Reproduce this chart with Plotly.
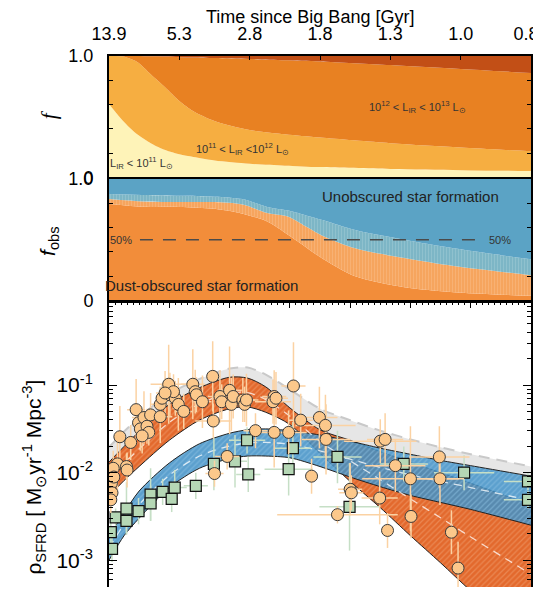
import numpy as np
import plotly.graph_objects as go

# ---------------- top panel: luminosity-class fractions ----------------
z_frac = [0, 0.2, 0.4, 0.6, 0.8, 1.0, 1.2, 1.5, 2.0, 2.5, 3.0, 4.0, 5.0, 6.0]
f_lt11 = [0.605, 0.465, 0.355, 0.28, 0.225, 0.19, 0.168, 0.14, 0.113, 0.097, 0.085, 0.07, 0.06, 0.052]
f_lt12 = [1.0, 0.995, 0.95, 0.845, 0.74, 0.63, 0.545, 0.465, 0.39, 0.355, 0.328, 0.282, 0.247, 0.215]
f_lt13 = [1.0, 1.0, 1.0, 0.997, 0.995, 0.99, 0.988, 0.983, 0.975, 0.965, 0.955, 0.925, 0.893, 0.86]

# ---------------- middle panel: obscured fraction ----------------
z_obs = [0, 0.5, 1.0, 1.5, 1.9, 2.25, 2.55, 2.8, 3.05, 3.5, 4.2, 4.9, 6.0]
fobs_lo = [0.795, 0.772, 0.77, 0.755, 0.715, 0.65, 0.54, 0.44, 0.34, 0.20, 0.11, 0.07, 0.04]
fobs_mid = [0.835, 0.815, 0.81, 0.81, 0.79, 0.72, 0.69, 0.61, 0.53, 0.43, 0.35, 0.285, 0.21]
fobs_hi = [0.876, 0.868, 0.862, 0.855, 0.835, 0.77, 0.74, 0.70, 0.66, 0.58, 0.50, 0.43, 0.34]

# ---------------- bottom panel: SFRD (log10) ----------------
z_sfrd = [0, 0.25, 0.5, 1.0, 1.5, 2.0, 2.3, 2.6, 3.0, 3.5, 4.0, 4.5, 5.0, 5.5, 6.0, 7.0]
log_total_hi = [-1.71, -1.53, -1.37, -1.10, -0.93, -0.81, -0.80, -0.88, -1.05, -1.27, -1.40, -1.52, -1.62, -1.71, -1.79, -1.93]
log_obsc_hi = [-1.88, -1.70, -1.53, -1.22, -1.03, -0.91, -0.92, -1.02, -1.26, -1.51, -1.63, -1.76, -1.88, -2.00, -2.12, -2.37]
log_obsc_lo = [-2.27, -2.09, -1.93, -1.63, -1.40, -1.27, -1.25, -1.31, -1.45, -1.78, -2.10, -2.40, -2.72, -3.03, -3.35, -3.95]
log_unob_hi = [-2.72, -2.46, -2.21, -1.89, -1.67, -1.55, -1.51, -1.50, -1.52, -1.57, -1.64, -1.72, -1.79, -1.86, -1.92, -2.04]
log_unob_lo = [-3.00, -2.72, -2.52, -2.17, -1.95, -1.84, -1.81, -1.81, -1.83, -1.93, -2.05, -2.16, -2.26, -2.34, -2.42, -2.60]

# IR / mm measurements (orange circles)
ir_z = [0.18, 0.36, 0.14, 0.29, 0.04, 0.05, 0.45, 0.49, 0.52, 0.58, 0.63, 0.66, 0.69, 0.55,
        0.85, 0.85, 0.88, 0.99, 1.01, 1.10, 1.15, 1.24, 1.07, 0.93, 1.39, 1.43, 1.45, 1.55,
        1.72, 1.73, 1.84, 1.87, 2.00, 2.03, 2.06, 2.22, 2.25, 2.74, 2.72, 3.06, 3.18, 3.49,
        2.43, 2.74, 2.98, 1.96, 1.75, 3.36, 0.30, 0.07, 0.03, 0.08, 2.28, 2.77, 3.59, 3.60,
        4.50, 4.58, 4.75, 5.00, 5.48, 5.49, 4.00, 4.02, 4.49, 3.79, 5.01, 4.62, 5.68, 5.79]
ir_log = [-1.59, -1.655, -1.90, -1.93, -2.12, -2.23, -1.28, -1.43, -1.50, -1.37, -1.47, -1.54, -1.34, -1.58,
          -1.36, -1.22, -1.15, -0.99, -1.11, -1.15, -1.22, -1.30, -1.075, -1.09, -0.99, -1.075, -1.11, -1.19,
          -0.90, -1.41, -1.13, -1.19, -1.06, -1.22, -1.13, -1.17, -1.22, -1.13, -1.19, -1.01, -1.40, -1.37,
          -1.52, -1.54, -1.54, -1.815, -2.01, -2.04, -1.97, -1.95, -2.31, -2.05, -1.17, -1.15, -1.46, -1.62,
          -1.64, -1.62, -1.92, -2.07, -1.82, -2.07, -2.19, -2.23, -2.29, -2.48, -2.50, -2.66, -2.68, -3.09]
ir_dlog = [0.35, 0.2, 0.3, 0.15, 0.15, 0.15, 0.35, 0.2, 0.25, 0.3, 0.2, 0.15, 0.25, 0.2,
           0.3, 0.2, 0.15, 0.45, 0.25, 0.2, 0.3, 0.2, 0.2, 0.25, 0.4, 0.25, 0.2, 0.3,
           0.4, 0.2, 0.3, 0.2, 0.5, 0.3, 0.25, 0.25, 0.2, 0.3, 0.25, 0.5, 0.3, 0.35,
           0.2, 0.4, 0.25, 0.15, 0.15, 0.2, 0.2, 0.2, 0.15, 0.15, 0.3, 0.3, 0.35, 0.4,
           0.25, 0.3, 0.3, 0.6, 0.35, 0.3, 0.3, 0.2, 0.3, 0.1, 0.25, 0.2, 0.25, 0.3]
ir_dz = [0.1, 0.1, 0.1, 0.1, 0.05, 0.05, 0.15, 0.1, 0.1, 0.2, 0.1, 0.1, 0.1, 0.1,
         0.2, 0.15, 0.1, 0.3, 0.1, 0.1, 0.1, 0.15, 0.1, 0.15, 0.2, 0.1, 0.1, 0.15,
         0.1, 0.3, 0.2, 0.1, 0.2, 0.1, 0.2, 0.2, 0.1, 0.2, 0.3, 0.2, 0.2, 0.3,
         0.2, 0.3, 0.3, 0.2, 0.15, 0.1, 0.1, 0.05, 0.03, 0.05, 0.2, 0.2, 0.5, 0.4,
         0.6, 0.3, 0.5, 0.8, 0.5, 0.4, 0.2, 0.2, 0.3, 1.0, 0.1, 0.1, 0.1, 0.1]

# UV measurements (green squares)
uv_z = [0.05, 0.11, 0.29, 0.29, 0.49, 0.69, 0.69, 0.89, 1.04, 1.09, 1.44, 1.74, 2.09, 2.31,
        2.29, 2.98, 3.05, 0.03, 3.79, 4.89, 5.89, 3.99, 6.95, 6.95]
uv_log = [-2.87, -2.51, -2.41, -2.55, -2.44, -2.25, -2.35, -2.22, -2.30, -2.17, -2.15, -1.90, -1.87, -2.02,
          -1.63, -1.96, -1.72, -2.68, -1.82, -1.90, -2.00, -2.39, -2.10, -2.31]
uv_dlog = [0.15, 0.1, 0.3, 0.15, 0.15, 0.3, 0.2, 0.15, 0.15, 0.2, 0.15, 0.3, 0.3, 0.2,
           0.15, 0.3, 0.3, 0.15, 0.3, 0.2, 0.2, 0.5, 0.1, 0.1]
uv_dz = [0.05, 0.05, 0.1, 0.1, 0.1, 0.1, 0.1, 0.1, 0.1, 0.2, 0.2, 0.1, 0.2, 0.2,
         0.3, 0.4, 0.3, 0.03, 0.4, 0.4, 0.5, 0.5, 0.4, 0.4]

age_ticklabels = ['13.9', '5.3', '2.8', '1.8', '1.3', '1.0', '0.8&nbsp;&nbsp;']
age_tick_z = [0, 1, 2, 3, 4, 5, 6]

FONT = "Liberation Sans, Arial, Helvetica, sans-serif"

fig = go.Figure()

# ---- top panel
def band_top(y, color, fill):
    return go.Scatter(x=z_frac, y=y, mode='lines', line=dict(width=0, shape='spline', smoothing=0.8),
                      fill=fill, fillcolor=color, xaxis='x', yaxis='y', hoverinfo='skip')

fig.add_trace(band_top(f_lt11, '#FEF3B8', 'tozeroy'))
fig.add_trace(band_top(f_lt12, '#F6AE41', 'tonexty'))
fig.add_trace(band_top(f_lt13, '#E88122', 'tonexty'))
fig.add_trace(band_top([1.0] * len(z_frac), '#C24F16', 'tonexty'))

# ---- middle panel
fig.add_trace(go.Scatter(x=z_obs, y=fobs_lo, mode='lines', line=dict(width=0, shape='spline', smoothing=0.8),
                         fill='tozeroy', fillcolor='#F28D3A', xaxis='x2', yaxis='y2', hoverinfo='skip'))
fig.add_trace(go.Scatter(x=z_obs, y=fobs_mid, mode='lines', line=dict(width=0, shape='spline', smoothing=0.8),
                         fill='tonexty', fillcolor='#F6A55E',
                         fillpattern=dict(shape='|', bgcolor='#F6A55E', fgcolor='#F9BE88', size=3, solidity=0.35),
                         xaxis='x2', yaxis='y2', hoverinfo='skip'))
fig.add_trace(go.Scatter(x=z_obs, y=fobs_hi, mode='lines', line=dict(width=0, shape='spline', smoothing=0.8),
                         fill='tonexty', fillcolor='#7DB6C6',
                         fillpattern=dict(shape='|', bgcolor='#7DB6C6', fgcolor='#A2CCD6', size=3, solidity=0.35),
                         xaxis='x2', yaxis='y2', hoverinfo='skip'))
fig.add_trace(go.Scatter(x=z_obs, y=[1.0] * len(z_obs), mode='lines', line=dict(width=0),
                         fill='tonexty', fillcolor='#5BA3C5', xaxis='x2', yaxis='y2', hoverinfo='skip'))
fig.add_trace(go.Scatter(x=[0.44, 5.25], y=[0.5, 0.5], mode='lines',
                         line=dict(color='#4a4a4a', width=1.5, dash='13px,10px'),
                         xaxis='x2', yaxis='y2', hoverinfo='skip'))

# ---- bottom panel
def lin(a):
    return [10 ** v for v in a]

gray_lo = list(np.maximum(np.array(log_obsc_hi), np.array(log_unob_hi)))
fig.add_trace(go.Scatter(x=z_sfrd, y=lin(gray_lo), mode='lines', line=dict(width=0, shape='spline', smoothing=0.8),
                         xaxis='x3', yaxis='y3', hoverinfo='skip'))
fig.add_trace(go.Scatter(x=z_sfrd, y=lin(log_total_hi), mode='lines',
                         line=dict(width=2, color='#C9C9C9', dash='11px,7px', shape='spline', smoothing=0.8),
                         fill='tonexty', fillcolor='#E6E6E6', xaxis='x3', yaxis='y3', hoverinfo='skip'))

fig.add_trace(go.Scatter(x=z_sfrd, y=lin(log_obsc_lo), mode='lines',
                         line=dict(width=1, color='#222', shape='spline', smoothing=0.8),
                         xaxis='x3', yaxis='y3', hoverinfo='skip'))
fig.add_trace(go.Scatter(x=z_sfrd, y=lin(log_obsc_hi), mode='lines',
                         line=dict(width=1, color='#222', shape='spline', smoothing=0.8),
                         fill='tonexty', fillcolor='#E3692D',
                         fillpattern=dict(shape='/', bgcolor='#E3692D', fgcolor='#F2A678', size=4, solidity=0.3),
                         xaxis='x3', yaxis='y3', hoverinfo='skip'))

fig.add_trace(go.Scatter(x=z_sfrd, y=lin(log_unob_lo), mode='lines',
                         line=dict(width=1, color='#222', shape='spline', smoothing=0.8),
                         xaxis='x3', yaxis='y3', hoverinfo='skip'))
fig.add_trace(go.Scatter(x=z_sfrd, y=lin(log_unob_hi), mode='lines',
                         line=dict(width=1, color='#222', shape='spline', smoothing=0.8),
                         fill='tonexty', fillcolor='rgba(63,143,198,0.85)',
                         fillpattern=dict(shape='/', bgcolor='rgba(63,143,198,0.85)', fgcolor='rgba(150,200,230,0.9)',
                                          size=4, solidity=0.3),
                         xaxis='x3', yaxis='y3', hoverinfo='skip'))

obsc_med = [(a + b) / 2 for a, b in zip(log_obsc_hi, log_obsc_lo)]
unob_med = [(a + b) / 2 for a, b in zip(log_unob_hi, log_unob_lo)]
for med in (obsc_med, unob_med):
    fig.add_trace(go.Scatter(x=z_sfrd, y=lin(med), mode='lines',
                             line=dict(width=1.3, color='rgba(255,255,255,0.75)', dash='8px,6px',
                                       shape='spline', smoothing=0.8),
                             xaxis='x3', yaxis='y3', hoverinfo='skip'))

def errs(logs, dl):
    up = [10 ** (v + d) - 10 ** v for v, d in zip(logs, dl)]
    dn = [10 ** v - 10 ** (v - d) for v, d in zip(logs, dl)]
    return up, dn

uv_up, uv_dn = errs(uv_log, uv_dlog)
fig.add_trace(go.Scatter(x=uv_z, y=lin(uv_log), mode='markers',
                         marker=dict(symbol='square', size=11, color='#B5D7B5', line=dict(color='#111', width=1.2)),
                         error_y=dict(type='data', array=uv_up, arrayminus=uv_dn, color='#C6DFC6', thickness=1.5, width=0),
                         error_x=dict(type='data', array=uv_dz, color='#C6DFC6', thickness=1.5, width=0),
                         xaxis='x3', yaxis='y3', hoverinfo='skip'))

ir_up, ir_dn = errs(ir_log, ir_dlog)
fig.add_trace(go.Scatter(x=ir_z, y=lin(ir_log), mode='markers',
                         marker=dict(symbol='circle', size=12, color='#FCC88B', line=dict(color='#3a3a3a', width=1)),
                         error_y=dict(type='data', array=ir_up, arrayminus=ir_dn, color='#FBD2A3', thickness=1.5, width=0),
                         error_x=dict(type='data', array=ir_dz, color='#FBD2A3', thickness=1.5, width=0),
                         xaxis='x3', yaxis='y3', hoverinfo='skip'))

# ---------------- layout ----------------
axline = dict(showline=True, linecolor='black', linewidth=2, showgrid=False, zeroline=False)
minor_log = [m * 10.0 ** e for e in (-4, -3, -2, -1) for m in range(2, 10)]

fig.update_layout(
    width=541, height=589,
    margin=dict(l=101, r=15, t=48, b=0),
    paper_bgcolor='white', plot_bgcolor='white',
    showlegend=False,
    font=dict(family=FONT, color='black'),
    xaxis=dict(domain=[0, 1], range=[0, 6], anchor='y', side='top', tickvals=age_tick_z, ticktext=age_ticklabels,
               ticks='inside', ticklen=4, tickwidth=1, tickcolor='black', mirror=True,
               tickfont=dict(size=18), ticklabelstandoff=7, ticklabeloverflow='allow', **axline),
    yaxis=dict(domain=[0.7713, 1.0], range=[0, 1], anchor='x', tickvals=[0, 1.0],
               ticktext=['0', '1.0'], ticks='inside', ticklen=4, tickcolor='black', mirror='ticks',
               minor=dict(ticks='inside', dtick=0.2, tick0=0, ticklen=4, tickcolor='black'),
               tickfont=dict(size=18), ticklabelstandoff=10, **axline),
    xaxis2=dict(domain=[0, 1], range=[0, 6], anchor='y2', showticklabels=False, ticks='', mirror=True, **axline),
    yaxis2=dict(domain=[0.5392, 0.7684], range=[0, 1], anchor='x2', tickvals=[0, 1.0],
                ticktext=['0', '1.0'], ticks='inside', ticklen=4, tickcolor='black', mirror='ticks',
                minor=dict(ticks='inside', dtick=0.2, tick0=0, ticklen=4, tickcolor='black'),
                tickfont=dict(size=18), ticklabelstandoff=10, **axline),
    xaxis3=dict(domain=[0, 1], range=[0, 7], anchor='y3', side='top', showticklabels=False, dtick=1, tick0=0,
                ticks='inside', ticklen=6, tickcolor='black',
                minor=dict(ticks='inside', dtick=0.1, ticklen=3, tickcolor='black'), **axline),
    yaxis3=dict(domain=[0, 0.536], type='log', range=[-3.306, -0.055], anchor='x3',
                tickvals=[1e-3, 1e-2, 1e-1], ticktext=['10<sup>-3</sup>', '10<sup>-2</sup>', '10<sup>-1</sup>'],
                ticks='inside', ticklen=8, tickcolor='black', mirror='ticks',
                minor=dict(ticks='inside', tickvals=minor_log, ticklen=4, tickcolor='black'),
                tickfont=dict(size=21), ticklabelstandoff=10, **axline),
)

def A(text, x, y, size, xref='paper', yref='paper', angle=0, color='black', family=None):
    f = dict(size=size, color=color)
    if family:
        f['family'] = family
    return dict(text=text, xref=xref, yref=yref, x=x, y=y, showarrow=False, textangle=angle,
                xanchor='center', yanchor='middle', font=f)

ann = [
    A('Time since Big Bang [Gyr]', (303 - 101) / 425, (589 - 8) / 541, 18),
    A('<i>f</i>', (40 - 101) / 425, (589 - 108) / 541, 21, angle=-90, family='Liberation Serif, serif'),
    A('<i>f</i><sub>obs</sub>', (40 - 101) / 425, (589 - 236) / 541, 21, angle=-90),
    A('ρ<sub>SFRD</sub> [ M<sub>⊙</sub>yr<sup>-1</sup> Mpc<sup>-3</sup>]', (25 - 101) / 425, (589 - 477) / 541, 21,
      angle=-90),
    A('10<sup>12</sup> < L<sub>IR</sub> < 10<sup>13</sup> L<sub>⊙</sub>', 4.38, 0.578, 11, 'x', 'y', color='#333'),
    A('10<sup>11</sup> < L<sub>IR</sub> <10<sup>12</sup> L<sub>⊙</sub>', 1.90, 0.234, 11, 'x', 'y', color='#333'),
    A('L<sub>IR</sub> < 10<sup>11</sup> L<sub>⊙</sub>', 0.46, 0.12, 11, 'x', 'y', color='#333'),
    A('Unobscured star formation', 4.28, 0.86, 15, 'x2', 'y2', color='#222'),
    A('Dust-obscured star formation', 1.32, 0.126, 15, 'x2', 'y2', color='#222'),
    A('50%', 0.175, 0.5, 11, 'x2', 'y2', color='#333'),
    A('50%', 5.56, 0.5, 11, 'x2', 'y2', color='#333'),
]
fig.update_layout(annotations=ann)

fig.write_html("out.html")
